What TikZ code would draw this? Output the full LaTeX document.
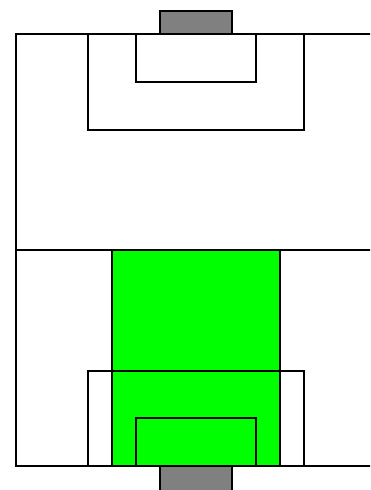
\documentclass[tikz,border=0pt]{standalone}
\begin{document}
\begin{tikzpicture}[x=1pt,y=-1pt,
  pitchline/.style={draw=black,line width=1.4pt},
  goalbox/.style={pitchline,fill=gray!100!white,fill=black!50},
  zone/.style={pitchline,fill=green}]
\useasboundingbox (0,0) rectangle (370,490);
\clip (0,0) rectangle (370,490);
% goals
\draw[goalbox] (160,11) rectangle (232,34);
\draw[goalbox] (160,466) rectangle (232,495);
% field
\draw[pitchline] (390,34) -- (16,34) -- (16,466) -- (390,466);
\draw[pitchline] (16,250) -- (390,250);
% top boxes
\draw[pitchline] (88,34) rectangle (304,130);
\draw[pitchline] (136,34) rectangle (256,82);
% green zone
\draw[zone] (112,250) rectangle (280,466);
% bottom boxes
\draw[pitchline] (88,371) rectangle (304,466);
\draw[pitchline] (136,418) rectangle (256,466);
\end{tikzpicture}
\end{document}
